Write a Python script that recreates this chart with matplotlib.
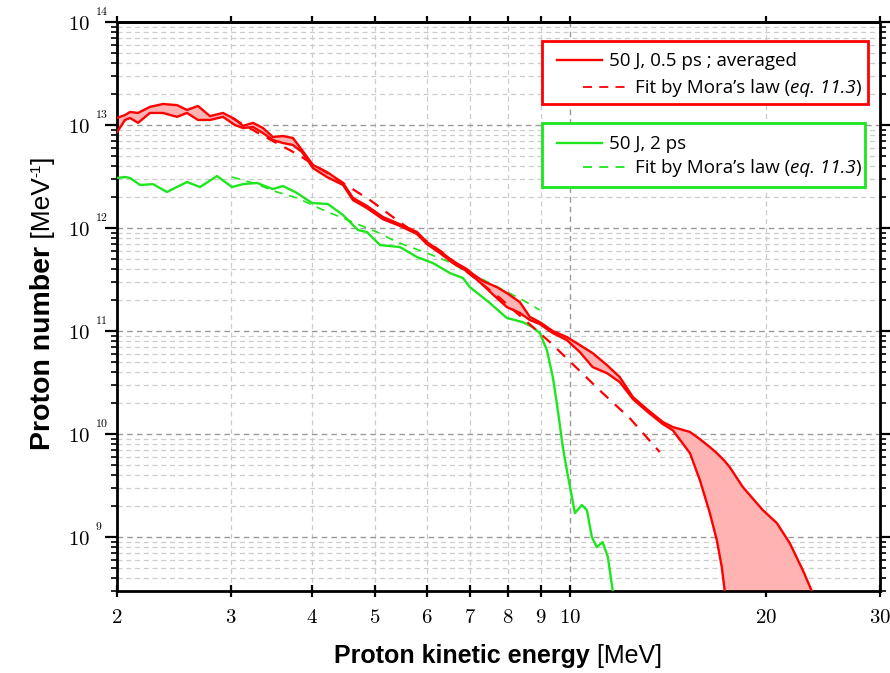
import numpy as np
import matplotlib
matplotlib.use("Agg")
import matplotlib.pyplot as plt
from matplotlib.ticker import FixedLocator, FuncFormatter, LogLocator, NullFormatter
from matplotlib.transforms import IdentityTransform
from matplotlib.patches import Rectangle
from matplotlib.lines import Line2D
from matplotlib import font_manager

# ---------------- data ----------------
red_energy = [2.000, 2.058, 2.095, 2.155, 2.248, 2.354, 2.475, 2.564, 2.666, 2.782, 2.913, 3.040, 3.128,
              3.241, 3.357, 3.478, 3.604, 3.734, 3.856, 4.010, 4.213, 4.460, 4.621, 4.857, 5.139, 5.458,
              5.800, 6.008, 6.291, 6.588, 6.920, 7.072, 7.328, 7.701, 7.979, 8.356, 8.659, 8.971, 9.393,
              9.872, 10.34, 10.82, 11.38, 11.91, 12.48, 13.11, 13.88, 14.38, 15.28, 15.83, 16.40, 16.81,
              17.11, 17.29, 17.60, 18.44, 19.79, 20.80, 21.78, 22.81, 23.55, 24.66]
red_upper = [1.17e13, 1.25e13, 1.34e13, 1.31e13, 1.50e13, 1.60e13, 1.56e13, 1.40e13, 1.53e13, 1.22e13,
             1.31e13, 1.14e13, 9.8e12, 1.05e13, 9.35e12, 7.65e12, 7.82e12, 7.48e12, 5.72e12, 4.09e12,
             3.50e12, 2.74e12, 1.96e12, 1.64e12, 1.28e12, 1.09e12, 9.15e11, 7.31e11, 5.98e11, 4.78e11,
             4.00e11, 3.58e11, 3.06e11, 2.67e11, 2.34e11, 1.91e11, 1.37e11, 1.22e11, 1.00e11, 8.74e10,
             7.31e10, 6.11e10, 4.68e10, 3.58e10, 2.29e10, 1.75e10, 1.31e10, 1.17e10, 1.05e10, 8.94e9,
             7.48e9, 6.54e9, 5.85e9, 5.47e9, 4.78e9, 3.06e9, 1.83e9, 1.37e9, 8.74e8, 4.78e8, 3.0e8, 1.5e8]
red_lower = [8.55e12, 1.12e13, 1.17e13, 1.05e13, 1.31e13, 1.31e13, 1.20e13, 1.31e13, 1.12e13, 1.12e13,
             1.20e13, 1.00e13, 9.35e12, 9.56e12, 8.36e12, 7.15e12, 6.69e12, 6.40e12, 5.47e12, 3.82e12,
             3.13e12, 2.62e12, 1.87e12, 1.56e12, 1.22e12, 1.05e12, 8.74e11, 6.99e11, 5.72e11, 4.57e11,
             3.82e11, 3.42e11, 2.80e11, 2.09e11, 1.71e11, 1.50e11, 1.28e11, 1.17e11, 9.56e10, 8.18e10,
             6.25e10, 4.47e10, 3.91e10, 3.20e10, 2.19e10, 1.67e10, 1.25e10, 1.09e10, 6.54e9, 3.58e9,
             1.71e9, 9.35e8, 5.12e8, 3.0e8, 1.5e8, 1e8, 1e8, 1e8, 1e8, 1e8, 1e8, 1e8]

green_energy = [2.000, 2.058, 2.095, 2.170, 2.272, 2.388, 2.564, 2.685, 2.852, 3.008, 3.128, 3.287, 3.478,
                3.604, 3.788, 3.995, 4.228, 4.460, 4.704, 4.857, 5.085, 5.458, 5.800, 6.137, 6.518, 6.826,
                6.998, 7.512, 7.979, 8.445, 8.751, 8.971, 9.197, 9.393, 9.561, 9.733, 9.872, 10.16, 10.41,
                10.60, 10.79, 10.98, 11.21, 11.42, 11.62, 11.79]
green_counts = [3.06e12, 3.13e12, 3.06e12, 2.62e12, 2.67e12, 2.24e12, 2.80e12, 2.50e12, 3.20e12, 2.50e12,
                2.67e12, 2.74e12, 2.39e12, 2.56e12, 2.19e12, 1.75e12, 1.71e12, 1.34e12, 9.56e11, 9.15e11,
                6.84e11, 6.54e11, 5.23e11, 4.57e11, 3.66e11, 3.27e11, 2.67e11, 1.87e11, 1.34e11, 1.22e11,
                1.09e11, 9.56e10, 6.54e10, 3.58e10, 1.71e10, 7.48e9, 4.47e9, 1.71e9, 2.05e9, 1.83e9,
                1.00e9, 8.00e8, 8.94e8, 6.40e8, 3.0e8, 2.0e8]

red_fit_energy = [3.008, 3.321, 3.788, 4.335, 4.909, 5.458, 6.336, 7.785, 9.296, 11.21, 12.34, 13.73]
red_fit = [1.17e13, 8.18e12, 5.23e12, 3.06e12, 1.87e12, 1.14e12, 5.85e11, 2.09e11, 7.82e10, 2.50e10,
           1.43e10, 6.69e9]

green_fit_energy = [3.008, 3.241, 3.528, 3.788, 4.154, 4.572, 5.032, 5.401, 6.008, 6.450, 7.512, 8.445, 8.971]
green_fit = [3.13e12, 2.74e12, 2.24e12, 1.96e12, 1.50e12, 1.17e12, 9.15e11, 7.31e11, 5.72e11, 4.78e11,
             2.92e11, 2.00e11, 1.60e11]

x_ticks = [2, 3, 4, 5, 6, 7, 8, 9, 10, 20, 30]
y_decades = [9, 10, 11, 12, 13, 14]
legend_labels = ["50 J, 0.5 ps ; averaged", "50 J, 2 ps"]
fit_label = ("Fit by Mora\u2019s law (", "eq. 11.3", ")")

# ---------------- style ----------------
RED = "#ff0000"
GREEN = "#1ee61e"
FILL = "#ffb3b3"

names = {f.name for f in font_manager.fontManager.ttflist}
LABEL_FONT = "Liberation Sans Narrow" if "Liberation Sans Narrow" in names else "Liberation Sans"
LEG_FONT = "Open Sans"
plt.rcParams["mathtext.fontset"] = "cm"

W, H = 890, 673
fig = plt.figure(figsize=(W / 100, H / 100), dpi=100)
ax = fig.add_axes([117 / W, 1 - 591 / H, (880 - 117) / W, (591 - 22) / H])

ax.set_xscale("log")
ax.set_yscale("log")
ax.set_xlim(2, 30)
ax.set_ylim(3e8, 1e14)

ax.fill_between(red_energy, red_lower, red_upper, color=FILL, lw=0, zorder=2)
ax.plot(red_energy, red_upper, color=RED, lw=1.7, zorder=4)
ax.plot(red_energy, red_lower, color=RED, lw=1.7, zorder=4)
ax.plot(green_energy, green_counts, color=GREEN, lw=1.7, zorder=3)
ax.plot(red_fit_energy, red_fit, color=RED, lw=1.6, ls=(0, (5, 4)), zorder=3)
ax.plot(green_fit_energy, green_fit, color=GREEN, lw=1.2, ls=(0, (5, 4)), zorder=3)

# x ticks: 10 major, others minor (for grid shading)
ax.xaxis.set_major_locator(FixedLocator([10]))
ax.xaxis.set_minor_locator(FixedLocator([t for t in x_ticks if t != 10]))
fmt_x = FuncFormatter(lambda v, p: r"$%d$" % int(round(v)))
ax.xaxis.set_major_formatter(fmt_x)
ax.xaxis.set_minor_formatter(fmt_x)
ax.tick_params(axis="x", which="both", direction="inout", length=9, width=1.6,
               labelsize=15, pad=7, top=False)

ax.yaxis.set_major_locator(FixedLocator([10.0 ** k for k in y_decades]))
ax.yaxis.set_minor_locator(LogLocator(base=10, subs=np.arange(2, 10), numticks=20))
ax.yaxis.set_major_formatter(FuncFormatter(lambda v, p: r"$10$"))
ax.yaxis.set_minor_formatter(NullFormatter())
ax.tick_params(axis="y", which="major", direction="out", length=8.5, width=1.6, labelsize=15,
               right=True, pad=11)
ax.tick_params(axis="y", which="minor", direction="out", length=4.5, width=1.2, right=True)

sec = ax.secondary_xaxis("top")
sec.xaxis.set_major_locator(FixedLocator(x_ticks))
sec.xaxis.set_minor_locator(FixedLocator([]))
sec.xaxis.set_major_formatter(NullFormatter())
sec.tick_params(axis="x", direction="out", length=4.5, width=1.6)
sec.spines["top"].set_linewidth(2)

for s in ax.spines.values():
    s.set_linewidth(2)

ax.grid(which="major", ls=(0, (4, 3)), color="#999999", lw=1.0)
ax.grid(which="minor", ls=(0, (4, 3)), color="#cccccc", lw=0.9)
ax.set_axisbelow(True)

# ---------------- text helpers ----------------
fig.canvas.draw()
renderer = fig.canvas.get_renderer()

# small superscript exponents next to the "10" tick labels
for k in y_decades:
    yd = ax.transData.transform((2, 10.0 ** k))[1]
    fig.text(95, yd + 7, r"$%d$" % k, transform=IdentityTransform(), fontsize=8.5,
             ha="left", va="baseline")


def pieces(x, y, parts, rotation=0, align="left"):
    """parts: list of (text, kwargs, rise). x,y in pixels from top-left."""
    texts = []
    yd = H - y
    for s, kw, rise in parts:
        t = fig.text(0, 0, s, transform=IdentityTransform(), rotation=rotation,
                     rotation_mode="anchor", ha="left", va="baseline", **kw)
        texts.append((t, rise))
    sizes = []
    for t, rise in texts:
        bb = t.get_window_extent(renderer)
        sizes.append(bb.width if rotation == 0 else bb.height)
    total = sum(sizes)
    pos = {"left": 0, "center": -total / 2, "right": -total}[align]
    for (t, rise), sz in zip(texts, sizes):
        if rotation == 0:
            t.set_position((x + pos, yd + rise))
        else:
            t.set_position((x - rise, yd + pos))
        pos += sz
    return texts


pieces(498, 663, [("Proton kinetic energy", dict(family=LABEL_FONT, weight="bold", size=18), 0),
                  (" [MeV]", dict(family=LABEL_FONT, size=18), 0)], align="center")
pieces(50, 303, [("Proton number", dict(family=LABEL_FONT, weight="bold", size=20.5), 0),
                 (" [MeV", dict(family=LABEL_FONT, size=19), 0),
                 ("-1", dict(family=LABEL_FONT, size=11), 10),
                 ("]", dict(family=LABEL_FONT, size=19), 0)], rotation=90, align="center")

# ---------------- legends (two framed boxes) ----------------
LEGS = 13.5


def legend_box(x0, y0, x1, y1, color, label, row1_y, row2_y):
    fig.patches.append(Rectangle((x0 / W, 1 - y1 / H), (x1 - x0) / W, (y1 - y0) / H,
                                 transform=fig.transFigure, fill=True, facecolor="white",
                                 edgecolor=color, lw=2, zorder=5))
    fig.lines.append(Line2D([557 / W, 602 / W], [1 - row1_y / H] * 2, transform=fig.transFigure,
                            color=color, lw=1.7, zorder=6))
    fig.lines.append(Line2D([583 / W, 627 / W], [1 - row2_y / H] * 2, transform=fig.transFigure,
                            color=color, lw=1.3, ls=(0, (5, 4)), zorder=6))
    pieces(609, row1_y + 6, [(label, dict(family=LEG_FONT, size=LEGS, zorder=7), 0)])
    pieces(635, row2_y + 6, [(fit_label[0], dict(family=LEG_FONT, size=LEGS, zorder=7), 0),
                             (fit_label[1], dict(family=LEG_FONT, size=LEGS, style="italic", zorder=7), 0),
                             (fit_label[2], dict(family=LEG_FONT, size=LEGS, zorder=7), 0)])


legend_box(542, 41, 868, 104, RED, legend_labels[0], 60, 87)
legend_box(542, 123, 865, 187, GREEN, legend_labels[1], 143, 167)

fig.savefig("out.png", dpi=100)
